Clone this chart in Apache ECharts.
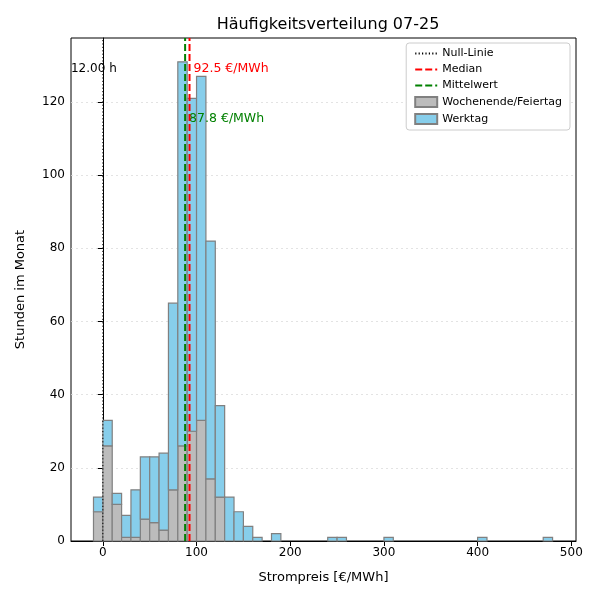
<!DOCTYPE html>
<html>
<head>
<meta charset="utf-8">
<script src="https://cdn.jsdelivr.net/npm/echarts@6/dist/echarts.min.js"></script>
<style>html,body{margin:0;background:#fff}#main{width:600px;height:600px}</style>
</head>
<body>
<div id="main"></div>
<script>
// Häufigkeitsverteilung Strompreis Juli 2025, Stunden pro 10-€-Klasse
var binWidth = 10;
var binStart   = [-10, 0, 10, 20, 30, 40, 50, 60, 70, 80, 90, 100, 110, 120, 130, 140, 150, 160, 180, 240, 250, 300, 400, 470];
var wochenende = [8, 26, 10, 1, 1, 6, 5, 3, 14, 26, 30, 33, 17, 12, 0, 0, 0, 0, 0, 0, 0, 0, 0, 0];
var werktag    = [4, 7, 3, 6, 13, 17, 18, 21, 51, 105, 91, 94, 65, 25, 12, 8, 4, 1, 2, 1, 1, 1, 1, 1];
var medianPrice = 92.5;
var meanPrice = 87.8;
var hoursBelowZero = 12.00;
var xTicks = [0, 100, 200, 300, 400, 500];
var yTicks = [0, 20, 40, 60, 80, 100, 120];
var yMax = 137.5;

var FONT = 'DejaVu Sans';

// gestapelte Daten [start, unten, oben]
var grayData = [], blueData = [];
binStart.forEach(function (x, i) {
  if (wochenende[i] > 0) grayData.push([x, 0, wochenende[i]]);
  if (werktag[i] > 0) blueData.push([x, wochenende[i], wochenende[i] + werktag[i]]);
});

function barRenderer(color) {
  return function (params, api) {
    var x0 = api.value(0);
    var p0 = api.coord([x0, api.value(2)]);
    var p1 = api.coord([x0 + binWidth, api.value(1)]);
    return {
      type: 'rect',
      shape: {x: p0[0], y: p0[1], width: p1[0] - p0[0], height: p1[1] - p0[1]},
      style: {fill: color, stroke: '#808080', lineWidth: 1.2}
    };
  };
}

var myChart = echarts.init(document.getElementById('main'));
var option = {
  animation: false,
  textStyle: {fontFamily: FONT},
  title: {
    text: 'Häufigkeitsverteilung 07-25',
    left: 323, top: 12, textAlign: 'center',
    textStyle: {fontFamily: FONT, fontSize: 16, fontWeight: 'normal', color: '#000'}
  },
  legend: {
    orient: 'vertical',
    right: 30, top: 43,
    backgroundColor: '#fff',
    borderColor: '#ccc', borderWidth: 1, borderRadius: 3,
    padding: [5, 8, 5, 8],
    itemGap: 5,
    itemWidth: 22, itemHeight: 10,
    textStyle: {fontFamily: FONT, fontSize: 11, color: '#000'},
    data: [
      {name: 'Null-Linie', itemStyle: {opacity: 0}},
      {name: 'Median', itemStyle: {opacity: 0}},
      {name: 'Mittelwert', itemStyle: {opacity: 0}},
      {name: 'Wochenende/Feiertag', icon: 'rect'},
      {name: 'Werktag', icon: 'rect'}
    ]
  },
  grid: {left: 71, right: 24, top: 38, bottom: 59, show: true, borderColor: '#000', borderWidth: 1},
  xAxis: {
    type: 'value', min: -34, max: 505,
    name: 'Strompreis [€/MWh]', nameLocation: 'middle', nameGap: 30,
    nameTextStyle: {fontFamily: FONT, fontSize: 13, color: '#000'},
    axisLine: {onZero: false, lineStyle: {color: '#000'}},
    axisTick: {show: true, length: 5, customValues: xTicks, lineStyle: {color: '#000'}},
    axisLabel: {customValues: xTicks, fontFamily: FONT, fontSize: 12, color: '#000', margin: 6},
    splitLine: {show: false}
  },
  yAxis: {
    type: 'value', min: 0, max: yMax,
    name: 'Stunden im Monat', nameLocation: 'middle', nameGap: 44,
    nameTextStyle: {fontFamily: FONT, fontSize: 13, color: '#000'},
    axisLine: {show: true, lineStyle: {color: '#000'}},
    axisTick: {show: true, length: 5, customValues: yTicks, lineStyle: {color: '#000'}},
    axisLabel: {customValues: yTicks, fontFamily: FONT, fontSize: 12, color: '#000', margin: 6},
    splitLine: {show: true, lineStyle: {color: '#dcdcdc', type: [2, 3], width: 0.8}}
  },
  series: [
    {
      name: 'Wochenende/Feiertag', type: 'custom',
      itemStyle: {color: '#bcbcbc', borderColor: '#808080', borderWidth: 1},
      renderItem: barRenderer('#bcbcbc'),
      encode: {x: 0, y: [1, 2]},
      data: grayData, z: 2
    },
    {
      name: 'Werktag', type: 'custom',
      itemStyle: {color: '#87ceeb', borderColor: '#808080', borderWidth: 1},
      renderItem: barRenderer('#87ceeb'),
      encode: {x: 0, y: [1, 2]},
      data: blueData, z: 2
    },
    {
      name: 'Null-Linie', type: 'line', symbol: 'none', z: 5,
      lineStyle: {color: '#000', width: 1, type: [1.2, 2.2]},
      itemStyle: {color: '#000'},
      data: [[0, 0], [0, yMax]],
      markPoint: {
        symbol: 'circle', symbolSize: 0,
        data: [{coord: [0, 129], label: {show: true, formatter: hoursBelowZero.toFixed(2) + ' h',
          position: 'inside', offset: [-9, 0], color: '#000', fontFamily: FONT, fontSize: 12}}]
      }
    },
    {
      name: 'Median', type: 'line', symbol: 'none', z: 6,
      lineStyle: {color: '#ff0000', width: 2, type: [7, 3]},
      itemStyle: {color: '#ff0000'},
      data: [[medianPrice, 0], [medianPrice, yMax]],
      markPoint: {
        symbol: 'circle', symbolSize: 0,
        data: [{coord: [medianPrice, 129], label: {show: true, formatter: medianPrice.toFixed(1) + ' €/MWh',
          position: 'right', distance: 4, color: '#ff0000', fontFamily: FONT, fontSize: 12.5}}]
      }
    },
    {
      name: 'Mittelwert', type: 'line', symbol: 'none', z: 6,
      lineStyle: {color: '#008000', width: 2, type: [7, 3]},
      itemStyle: {color: '#008000'},
      data: [[meanPrice, 0], [meanPrice, yMax]],
      markPoint: {
        symbol: 'circle', symbolSize: 0,
        data: [{coord: [meanPrice, 115.3], label: {show: true, formatter: meanPrice.toFixed(1) + ' €/MWh',
          position: 'right', distance: 4, color: '#008000', fontFamily: FONT, fontSize: 12.5}}]
      }
    }
  ]
};
myChart.setOption(option);
</script>
</body>
</html>
